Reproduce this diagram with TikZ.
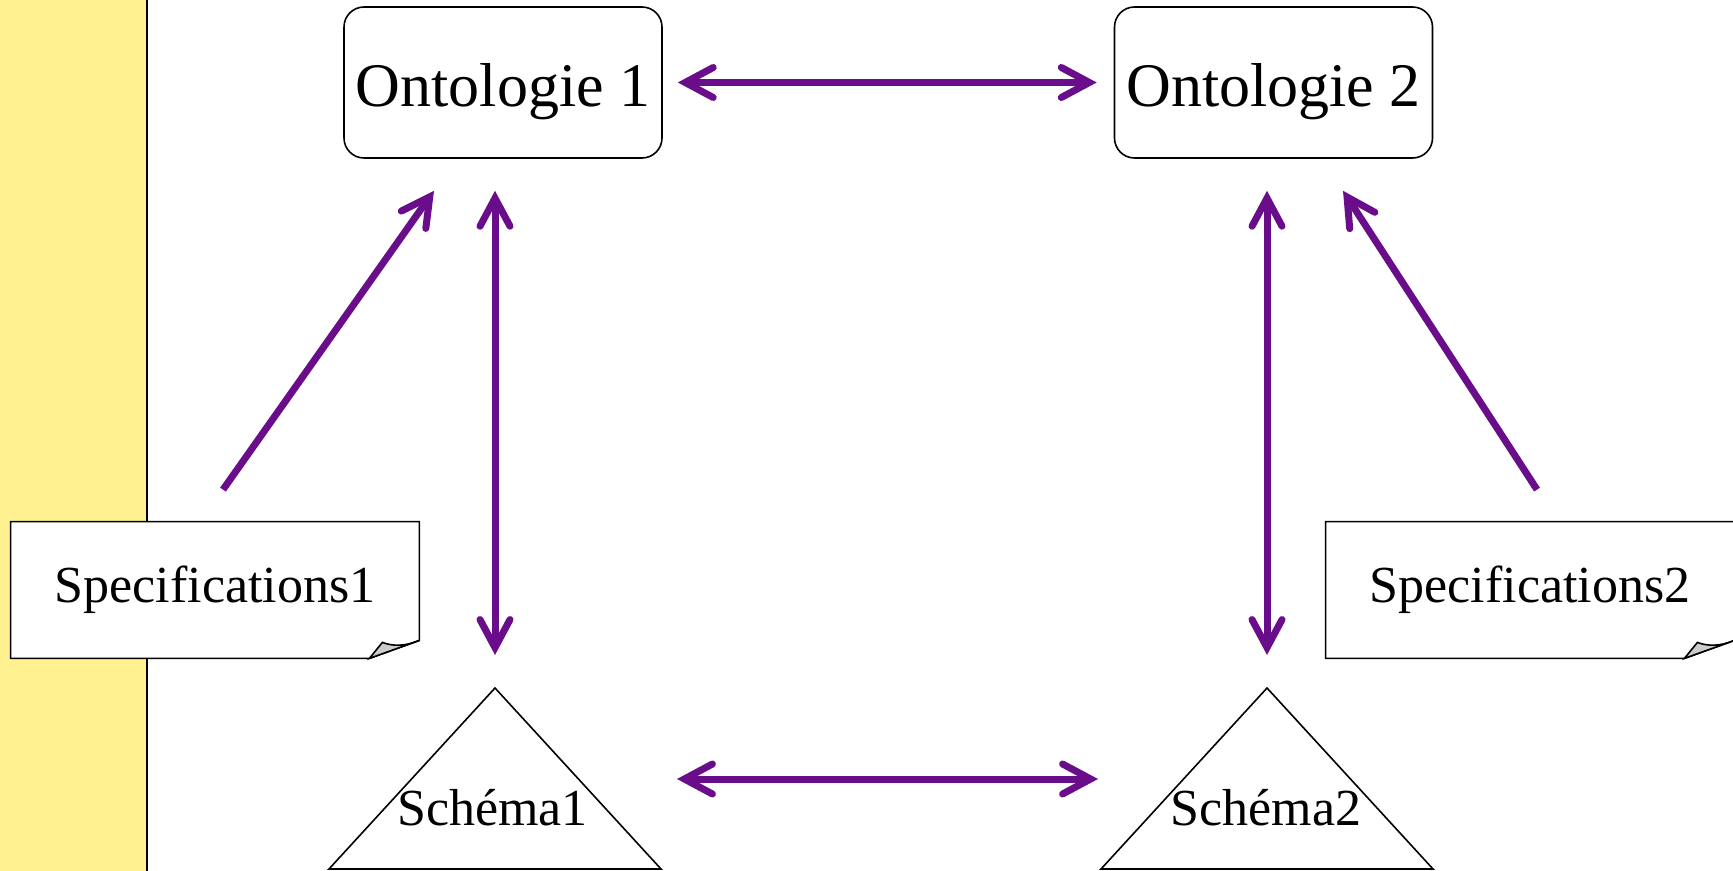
\documentclass[tikz,border=0pt]{standalone}
\usepackage{fontspec}
\setmainfont{Liberation Serif}
\usetikzlibrary{arrows.meta,calc,backgrounds}
\definecolor{arrowpurple}{RGB}{106,13,138}
\definecolor{sideyellow}{RGB}{255,241,143}
\tikzset{
  barbtip/.tip={Straight Barb[length=14pt,width=15pt,line cap=round,line join=miter]},
}
\begin{document}
\begin{tikzpicture}[x=0.5pt,y=-0.5pt,
  ontobox/.style={draw, rounded corners=10pt, line width=0.8pt,
    minimum width=159pt, minimum height=75.5pt, inner sep=0pt,
    font=\fontsize{31}{36}\selectfont, text height=24.5pt, text depth=0pt},
  notebox/.style={minimum width=204pt, minimum height=68pt, inner sep=0pt,
    font=\fontsize{26}{30}\selectfont},
  noteline/.style={draw, fill=white, line width=0.8pt, line join=miter},
  notefold/.style={draw, fill=black!20, line width=0.8pt},
  schemalabel/.style={font=\fontsize{26}{30}\selectfont, inner sep=0pt, anchor=base},
  link/.style={draw=arrowpurple, line width=3.5pt},
  bilink/.style={link, barbtip-barbtip},
  onelink/.style={link, -barbtip},
]
\useasboundingbox (0,0) rectangle (1733,871);

% ontologies
\node[ontobox] (o1) at (503,82.5) {Ontologie 1};
\node[ontobox] (o2) at (1273.5,82.5) {Ontologie 2};

% specification notes
\node[notebox] (p1) at (215,590) {Specifications1};
\node[notebox] (p2) at (1530,590) {Specifications2};

% schemas
\coordinate (s1top) at (495,688);
\coordinate (s2top) at (1267,688);
\draw[line width=0.8pt] (s1top) -- (329,869) -- (661,869) -- cycle;
\draw[line width=0.8pt] (s2top) -- (1101,869) -- (1433,869) -- cycle;
\node[schemalabel] (s1) at (492.5,825) {Schéma1};
\node[schemalabel] (s2) at (1266,825) {Schéma2};

% side band and note outlines behind the texts
\begin{scope}[on background layer]
  \fill[sideyellow] (0,0) rectangle (147,871);
  \draw[line width=1pt] (147,0) -- (147,871);
  \foreach \p in {p1,p2}{
    \path[noteline] (\p.north west) -- (\p.north east)
      -- ($(\p.south east)+(0,-18)$) -- ($(\p.south east)+(-50,0)$)
      -- (\p.south west) -- cycle;
  }
\end{scope}

% folded corners
\foreach \p in {p1,p2}{
  \path[notefold] ($(\p.south east)+(-50,0)$) -- ($(\p.south east)+(-37,-16)$)
    .. controls ($(\p.south east)+(-27,-12)$) and ($(\p.south east)+(-14,-12)$)
    .. ($(\p.south east)+(0,-18)$) -- cycle;
}

% connectors
\draw[bilink, shorten <=7.5pt, shorten >=8.5pt] (o1.east) -- (o2.west);
\draw[bilink] ($(s1top)+(182,91)$) -- ($(s2top)+(-169,91)$);
\draw[bilink, shorten <=16pt, shorten >=16.5pt] (s1top |- o1.south) -- (s1top);
\draw[bilink, shorten <=16pt, shorten >=16.5pt] (s2top |- o2.south) -- (s2top);
\draw[onelink] ($(p1.north)+(8,-32)$) -- ($(o1.south)+(-69,32)$);
\draw[onelink] ($(p2.north)+(7,-32)$) -- ($(o2.south)+(69.5,32)$);
\end{tikzpicture}
\end{document}
